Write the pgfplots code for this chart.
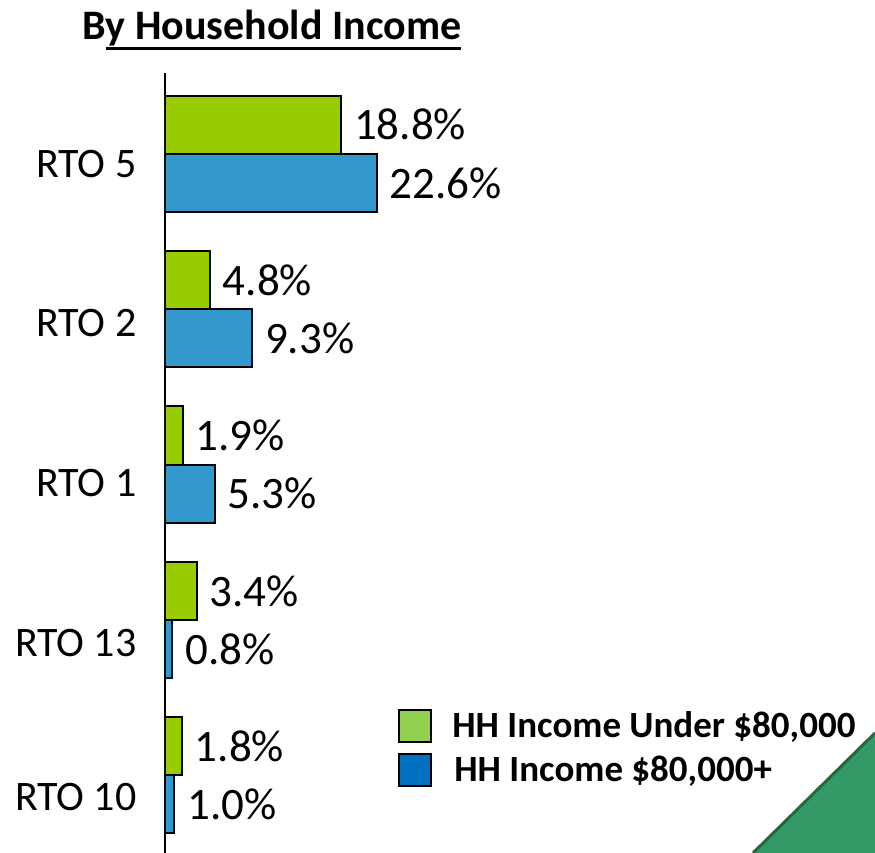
\documentclass[border=0pt]{standalone}
\usepackage{pgfplots}
\pgfplotsset{compat=1.18}
\usepackage{fontspec}
\setmainfont{Carlito}
\definecolor{bargreen}{HTML}{99CC00}
\definecolor{barblue}{HTML}{3399CC}
\definecolor{leggreen}{HTML}{92D050}
\definecolor{legblue}{HTML}{0070C0}
\definecolor{decogreen}{HTML}{339966}
\definecolor{decodark}{HTML}{1E6B40}
\newlength\ulw
\newcommand{\thickul}[1]{\settowidth{\ulw}{#1}\rlap{#1}\rule[-5pt]{\ulw}{1.5pt}}
\begin{document}
\begin{tikzpicture}
\begin{axis}[
 at={(0,0)}, anchor=south west,
 scale only axis, width=281pt, height=390pt,
 xmin=0, xmax=60, ymin=-0.5, ymax=4.52,
 axis x line=none, axis y line*=left,
 y axis line style={line width=1.2pt, -},
 ytick={-0.14,0.85,1.884,2.913,3.934},
 yticklabels={RTO 10,RTO 13,RTO 1,RTO 2,RTO 5},
 major tick length=0pt,
 yticklabel style={font=\fontsize{21}{25}\selectfont, inner sep=0pt, xshift=-14pt},
 xbar, bar width=0.374,
 point meta=x,
 /pgf/number format/assume math mode=true,
 nodes near coords={\pgfmathprintnumber[fixed,fixed zerofill,precision=1]{\pgfplotspointmeta}\%},
 nodes near coords style={font=\fontsize{22.5}{27}\selectfont, inner sep=0pt, xshift=6pt, anchor=west, black},
 title={B\thickul{y Household Income}},
 title style={at={(0.19,1)}, anchor=center, yshift=15.5pt, font=\fontsize{21}{25}\selectfont\bfseries},
 legend style={at={(0.4146,0.1875)}, anchor=north west, draw=none, fill=none, inner sep=0pt,
   font=\fontsize{18.5}{22}\selectfont\bfseries, row sep=4pt},
 legend cell align=left,
 legend image code/.code={\draw[#1, line width=1pt] (0pt,-8pt) rectangle (16pt,8pt);},
]
\addlegendimage{fill=leggreen, draw=black}
\addlegendentry{\hspace{8pt}HH Income Under \$80,000}
\addlegendimage{fill=legblue, draw=black}
\addlegendentry{\hspace{9pt}HH Income \$80,000+}
\addplot[fill=bargreen, draw=black, line width=1pt, bar shift=0.187, forget plot]
  coordinates {(1.8,0) (3.4,1) (1.9,2) (4.8,3) (18.8,4)};
\addplot[fill=barblue, draw=black, line width=1pt, bar shift=-0.187, forget plot]
  coordinates {(1.0,0) (0.8,1) (5.3,2) (9.3,3) (22.6,4)};
\end{axis}
\fill[decogreen] (294pt,0) -- (355pt,60pt) -- (355pt,0) -- cycle;
\draw[decodark, line width=1.5pt] (294pt,0) -- (355pt,60pt);
\pgfresetboundingbox
\useasboundingbox (-82.5pt,0) rectangle (355pt,426.5pt);
\end{tikzpicture}
\end{document}
